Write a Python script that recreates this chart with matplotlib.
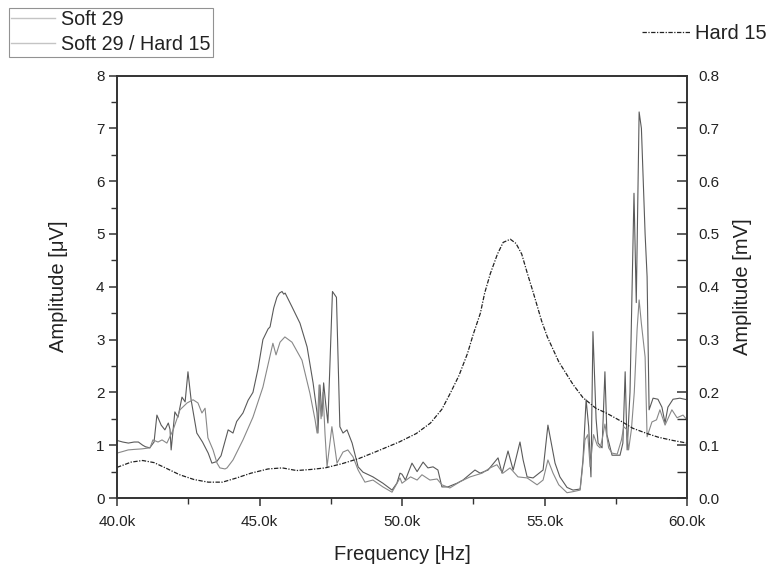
import matplotlib
matplotlib.use("Agg")
import matplotlib.pyplot as plt
from matplotlib.lines import Line2D
from matplotlib.ticker import MultipleLocator, FuncFormatter

plt.rcParams['font.family'] = ['Liberation Sans', 'DejaVu Sans']

# ---- data (frequency in kHz) ----
freq_soft = [40.0, 40.2, 40.4, 40.6, 40.75, 40.9, 41.0, 41.15, 41.3, 41.4, 41.55, 41.68, 41.8, 41.86, 41.9,
             42.03, 42.14, 42.28, 42.39, 42.49, 42.6, 42.8, 43.0, 43.2, 43.33, 43.5, 43.65, 43.9, 44.07,
             44.2, 44.42, 44.6, 44.77, 44.95, 45.12, 45.3, 45.37, 45.5, 45.61, 45.7, 45.79, 45.85, 45.9,
             46.14, 46.42, 46.67, 46.88, 47.02, 47.05, 47.12, 47.19, 47.25, 47.32, 47.4, 47.56, 47.7,
             47.82, 47.93, 48.07, 48.25, 48.46, 48.63, 48.98, 49.33, 49.65, 49.82, 49.93, 50.0, 50.12,
             50.35, 50.53, 50.74, 50.91, 51.09, 51.26, 51.4, 51.61, 51.93, 52.14, 52.56, 52.74, 53.02,
             53.37, 53.51, 53.72, 53.9, 54.14, 54.25, 54.39, 54.6, 54.95, 55.12, 55.37, 55.54, 55.79,
             56.0, 56.25, 56.35, 56.46, 56.55, 56.63, 56.7, 56.81, 56.88, 57.02, 57.12, 57.19, 57.37,
             57.65, 57.75, 57.83, 57.9, 58.0, 58.14, 58.22, 58.32, 58.4, 58.53, 58.6, 58.67, 58.81,
             58.98, 59.12, 59.23, 59.33, 59.51, 59.75, 60.0]
amp_soft = [1.09, 1.06, 1.04, 1.06, 1.06, 1.00, 0.97, 0.95, 1.06, 1.57, 1.38, 1.29, 1.42, 1.30, 0.91,
            1.63, 1.53, 1.91, 1.82, 2.39, 1.86, 1.23, 1.06, 0.85, 0.66, 0.69, 0.80, 1.29, 1.23,
            1.45, 1.61, 1.85, 2.0, 2.45, 3.0, 3.2, 3.24, 3.6, 3.8, 3.88, 3.91, 3.86, 3.88,
            3.62, 3.31, 2.86, 2.18, 1.61, 1.23, 2.14, 1.55, 2.18, 1.8, 1.42, 3.91, 3.8,
            1.35, 1.23, 1.29, 1.04, 0.59, 0.49, 0.40, 0.28, 0.15, 0.28, 0.47, 0.45, 0.34,
            0.66, 0.50, 0.68, 0.57, 0.59, 0.53, 0.21, 0.21, 0.28, 0.34, 0.53, 0.47, 0.53,
            0.76, 0.47, 0.89, 0.53, 1.06, 0.72, 0.40, 0.38, 0.53, 1.38, 0.66, 0.40, 0.20,
            0.15, 0.17, 0.72, 1.86, 1.35, 0.40, 3.15, 1.5, 1.04, 0.95, 2.39, 1.2, 0.81,
            0.81, 1.04, 2.39, 0.91, 2.0, 5.77, 3.7, 7.31, 7.0, 5.0, 4.19, 1.67, 1.89,
            1.87, 1.72, 1.42, 1.72, 1.87, 1.89, 1.86]

freq_mix = [40.0, 40.2, 40.39, 40.6, 40.87, 41.16, 41.26, 41.44, 41.58, 41.75, 41.97, 42.21, 42.46, 42.67,
            42.84, 42.98, 43.09, 43.19, 43.37, 43.51, 43.61, 43.79, 43.86, 44.07, 44.42, 44.77, 45.12,
            45.47, 45.58, 45.72, 45.89, 46.14, 46.49, 46.77, 46.95, 47.02, 47.09, 47.16, 47.23, 47.3,
            47.37, 47.54, 47.72, 47.93, 48.1, 48.28, 48.46, 48.7, 48.98, 49.33, 49.65, 49.93, 50.0,
            50.3, 50.53, 50.7, 50.98, 51.23, 51.4, 51.68, 52.04, 52.39, 52.81, 53.09, 53.33, 53.54,
            53.79, 54.07, 54.39, 54.74, 54.95, 55.12, 55.3, 55.5, 55.79, 56.0, 56.25, 56.32, 56.42,
            56.52, 56.6, 56.72, 56.85, 56.95, 57.02, 57.12, 57.25, 57.37, 57.55, 57.7, 57.78, 57.88,
            57.95, 58.05, 58.15, 58.25, 58.32, 58.4, 58.53, 58.6, 58.77, 58.93, 59.05, 59.23, 59.47,
            59.65, 59.86, 60.0]
amp_mix = [0.85, 0.88, 0.91, 0.92, 0.93, 0.95, 1.10, 1.06, 1.10, 1.04, 1.29, 1.67, 1.80, 1.86,
           1.80, 1.61, 1.70, 1.14, 0.91, 0.66, 0.57, 0.55, 0.57, 0.72, 1.10, 1.53, 2.10,
           2.93, 2.71, 2.95, 3.05, 2.95, 2.61, 1.98, 1.48, 1.23, 2.14, 1.50, 2.00, 1.20,
           0.59, 1.35, 0.66, 0.87, 0.91, 0.78, 0.53, 0.30, 0.34, 0.21, 0.11, 0.38, 0.28,
           0.40, 0.34, 0.44, 0.34, 0.36, 0.25, 0.19, 0.31, 0.40, 0.47, 0.57, 0.63, 0.47,
           0.57, 0.40, 0.38, 0.25, 0.34, 0.72, 0.47, 0.25, 0.10, 0.12, 0.15, 0.50, 1.10,
           1.20, 0.59, 1.20, 1.00, 0.95, 1.10, 1.40, 0.95, 0.85, 0.83, 1.10, 1.35, 1.30,
           0.91, 1.30, 2.00, 3.20, 3.75, 3.30, 2.67, 1.16, 1.44, 1.48, 1.67, 1.38, 1.67,
           1.52, 1.57, 1.48]

freq_hard = [40.0, 40.5, 40.9, 41.3, 41.7, 42.2, 42.7, 43.2, 43.7, 44.2, 44.7, 45.3, 45.8, 46.3, 46.8,
             47.3, 47.9, 48.5, 49.1, 49.5, 49.9, 50.5, 51.0, 51.4, 51.7, 52.0, 52.3, 52.5, 52.75, 52.9,
             53.1, 53.35, 53.55, 53.8, 54.0, 54.2, 54.4, 54.6, 54.9, 55.1, 55.5, 56.0, 56.35, 56.8,
             57.2, 57.7, 58.1, 58.6, 59.0, 59.5, 60.0]
amp_hard = [0.058, 0.068, 0.071, 0.067, 0.057, 0.044, 0.035, 0.030, 0.030, 0.038, 0.047, 0.055, 0.057,
            0.052, 0.054, 0.057, 0.065, 0.075, 0.088, 0.097, 0.106, 0.122, 0.142, 0.168, 0.199, 0.232,
            0.274, 0.31, 0.35, 0.388, 0.425, 0.462, 0.484, 0.490, 0.482, 0.462, 0.425, 0.39, 0.335,
            0.305, 0.258, 0.215, 0.19, 0.17, 0.16, 0.145, 0.132, 0.122, 0.115, 0.109, 0.104]

labels = ["Soft 29", "Soft 29 / Hard 15", "Hard 15"]
xticks = [40, 45, 50, 55, 60]

# ---- figure ----
W, H = 769, 565
fig = plt.figure(figsize=(W / 100, H / 100), dpi=100)
ax = fig.add_axes([117 / W, 1 - 498 / H, 570 / W, 422.5 / H])
ax2 = ax.twinx()

spine_c = '#333333'
l1, = ax.plot(freq_soft, amp_soft, color='#5a5a5a', lw=0.8)
l2, = ax.plot(freq_mix, amp_mix, color='#888888', lw=0.8)
l3, = ax2.plot(freq_hard, amp_hard, color='#222222', lw=0.9, dashes=(3.5, 1.2, 1, 1.2))

ax.set_xlim(40, 60)
ax.set_ylim(0, 8)
ax2.set_ylim(0, 0.8)

ax.set_xticks(xticks)
ax.xaxis.set_minor_locator(MultipleLocator(2.5))
ax.xaxis.set_major_formatter(FuncFormatter(lambda v, p: f"{v:.1f}k"))
ax.yaxis.set_major_locator(MultipleLocator(1))
ax.yaxis.set_minor_locator(MultipleLocator(0.5))
ax2.yaxis.set_major_locator(MultipleLocator(0.1))
ax2.yaxis.set_minor_locator(MultipleLocator(0.05))
ax2.yaxis.set_major_formatter(FuncFormatter(lambda v, p: f"{v:.1f}"))

for a in (ax, ax2):
    for s in a.spines.values():
        s.set_color(spine_c)
        s.set_linewidth(1.2)

ax.tick_params(axis='both', which='major', direction='out', length=6, width=1.1, color=spine_c,
               labelsize=11, labelcolor='#222222', pad=3)
ax.tick_params(axis='x', which='major', pad=6)
ax.tick_params(axis='both', which='minor', direction='out', length=4, width=1.0, color=spine_c)
ax.tick_params(axis='x', top=False, which='both')
ax2.tick_params(axis='y', which='major', direction='in', length=7, width=1.1, color=spine_c,
                labelsize=11, labelcolor='#222222', pad=8)
ax2.tick_params(axis='y', which='minor', direction='in', length=7, width=1.0, color=spine_c)

ax.set_xlabel("Frequency [Hz]", fontsize=14.5, color='#222222', labelpad=12)
ax.set_ylabel("Amplitude [\u03bcV]", fontsize=14.5, color='#222222', labelpad=20)
ax2.set_ylabel("Amplitude [mV]", fontsize=14.5, color='#222222', labelpad=10)

h1 = Line2D([], [], color='#c4c4c4', lw=1.0)
h2 = Line2D([], [], color='#c4c4c4', lw=1.0)
h3 = Line2D([], [], color='#222222', lw=0.9, dashes=(3.5, 1.2, 1, 1.2))

leg1 = fig.legend([h1, h2], labels[:2], loc='upper left', bbox_to_anchor=(9 / W, 1 - 8 / H),
                  bbox_transform=fig.transFigure, frameon=True, fancybox=False, fontsize=14.2,
                  handlelength=2.2, handletextpad=0.3, borderpad=0.12, labelspacing=0.3,
                  borderaxespad=0)
leg1.get_frame().set_edgecolor('#777777')
leg1.get_frame().set_linewidth(0.8)
for t in leg1.get_texts():
    t.set_color('#222222')

leg2 = fig.legend([h3], labels[2:], loc='upper right', bbox_to_anchor=(767 / W, 1 - 24 / H),
                  bbox_transform=fig.transFigure, frameon=False, fontsize=14.5,
                  handlelength=2.4, handletextpad=0.25, borderpad=0, borderaxespad=0)
for t in leg2.get_texts():
    t.set_color('#222222')

fig.savefig("out.png", dpi=100, facecolor='white')
